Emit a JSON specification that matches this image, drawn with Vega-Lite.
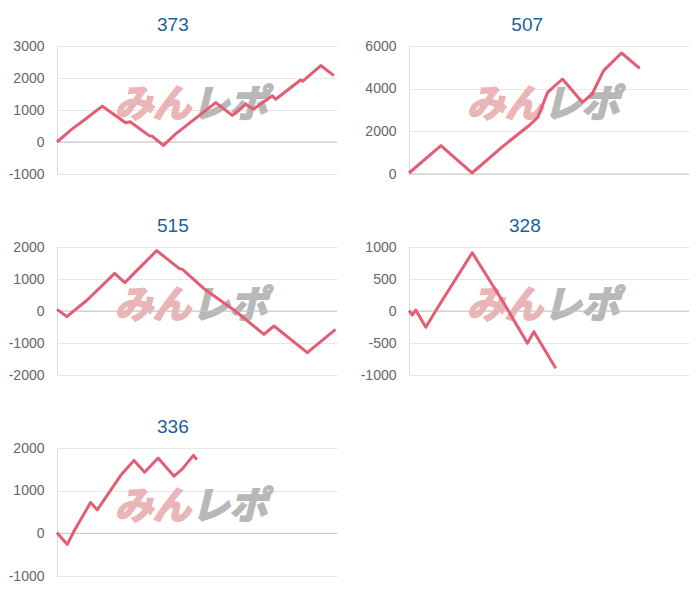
{
  "$schema": "https://vega.github.io/schema/vega-lite/v6.json",
  "padding": {"left": 8, "top": 16, "right": 5, "bottom": 5},
  "background": "white",
  "datasets": {
    "p373": [
      {"x": 0, "y": 0}, {"x": 5, "y": 380}, {"x": 10.8, "y": 758}, {"x": 16.2, "y": 1120},
      {"x": 24.5, "y": 600}, {"x": 26.1, "y": 632}, {"x": 32.9, "y": 200}, {"x": 34, "y": 180},
      {"x": 38, "y": -105}, {"x": 42.4, "y": 253}, {"x": 51.3, "y": 863}, {"x": 56.7, "y": 1232},
      {"x": 62.6, "y": 832}, {"x": 67.4, "y": 1179}, {"x": 70.1, "y": 1021}, {"x": 76.9, "y": 1442},
      {"x": 78.1, "y": 1337}, {"x": 87, "y": 1937}, {"x": 87.8, "y": 1900}, {"x": 94.2, "y": 2389},
      {"x": 98.9, "y": 2074}
    ],
    "p507": [
      {"x": 0, "y": 47}, {"x": 11.4, "y": 1328}, {"x": 22.5, "y": 47}, {"x": 33.1, "y": 1250},
      {"x": 43.1, "y": 2297}, {"x": 46, "y": 2656}, {"x": 49.5, "y": 3828}, {"x": 54.8, "y": 4453},
      {"x": 61.9, "y": 3359}, {"x": 65.4, "y": 3750}, {"x": 69.5, "y": 4844}, {"x": 75.9, "y": 5672},
      {"x": 82.4, "y": 4953}
    ],
    "p515": [
      {"x": 0, "y": 52}, {"x": 3.5, "y": -177}, {"x": 10.8, "y": 344}, {"x": 20.6, "y": 1177},
      {"x": 24.2, "y": 885}, {"x": 27.5, "y": 1177}, {"x": 35.6, "y": 1885}, {"x": 43.6, "y": 1333},
      {"x": 44.8, "y": 1300}, {"x": 53.1, "y": 656}, {"x": 63.2, "y": 31}, {"x": 73.9, "y": -729},
      {"x": 77.5, "y": -469}, {"x": 89.4, "y": -1302}, {"x": 99.5, "y": -573}
    ],
    "p328": [
      {"x": 0, "y": 5}, {"x": 1.2, "y": -63}, {"x": 2.4, "y": 16}, {"x": 6, "y": -255},
      {"x": 10.1, "y": 42}, {"x": 22.6, "y": 911}, {"x": 33.9, "y": 120}, {"x": 42.3, "y": -505},
      {"x": 44.6, "y": -323}, {"x": 52.4, "y": -896}
    ],
    "p336": [
      {"x": 0, "y": 16}, {"x": 3.7, "y": -260}, {"x": 6.1, "y": 55}, {"x": 12, "y": 724},
      {"x": 14.4, "y": 551}, {"x": 22.7, "y": 1354}, {"x": 27.5, "y": 1709}, {"x": 31.3, "y": 1433},
      {"x": 36.1, "y": 1764}, {"x": 41.8, "y": 1339}, {"x": 44.8, "y": 1512}, {"x": 48.7, "y": 1827},
      {"x": 49.9, "y": 1732}
    ]
  },
  "columns": 2,
  "spacing": {"row": 36, "column": 22},
  "concat": [
    {
      "title": "373", "width": 280, "height": 128,
      "layer": [
        {"data": {"values": [{}]}, "mark": {"type": "text", "text": "みん", "align": "right", "baseline": "middle", "font": "Noto Sans CJK JP", "fontWeight": "bold", "fontStyle": "italic", "fontSize": 38, "color": "#e9b5b7", "stroke": "#e9b5b7", "strokeWidth": 2},
         "encoding": {"x": {"datum": 47.8, "type": "quantitative", "title": null}, "y": {"datum": 1120, "type": "quantitative", "title": null, "axis": {"values": [-1000, 0, 1000, 2000, 3000]}}}},
        {"data": {"values": [{}]}, "mark": {"type": "text", "text": "レポ", "align": "left", "baseline": "middle", "font": "Noto Sans CJK JP", "fontWeight": "bold", "fontStyle": "italic", "fontSize": 38, "color": "#b8b8b8", "stroke": "#b8b8b8", "strokeWidth": 2},
         "encoding": {"x": {"datum": 48, "type": "quantitative", "title": null}, "y": {"datum": 1120, "type": "quantitative", "title": null, "axis": {"values": [-1000, 0, 1000, 2000, 3000]}}}},
        {"data": {"values": [{}]}, "mark": {"type": "rule", "color": "#c4c4c4", "strokeWidth": 1},
         "encoding": {"y": {"datum": 0, "type": "quantitative", "title": null, "axis": {"values": [-1000, 0, 1000, 2000, 3000]}}}},
        {"data": {"name": "p373"}, "mark": {"type": "line"},
         "encoding": {
           "x": {"field": "x", "type": "quantitative", "title": null, "scale": {"domain": [0, 100], "nice": false}},
           "y": {"field": "y", "type": "quantitative", "title": null, "scale": {"domain": [-1000, 3000], "nice": false},
                 "axis": {"values": [-1000, 0, 1000, 2000, 3000]}}
         }}
      ]
    },
    {
      "title": "507", "width": 280, "height": 128,
      "layer": [
        {"data": {"values": [{}]}, "mark": {"type": "text", "text": "みん", "align": "right", "baseline": "middle", "font": "Noto Sans CJK JP", "fontWeight": "bold", "fontStyle": "italic", "fontSize": 38, "color": "#e9b5b7", "stroke": "#e9b5b7", "strokeWidth": 2},
         "encoding": {"x": {"datum": 47.8, "type": "quantitative", "title": null}, "y": {"datum": 3180, "type": "quantitative", "title": null, "axis": {"values": [0, 2000, 4000, 6000]}}}},
        {"data": {"values": [{}]}, "mark": {"type": "text", "text": "レポ", "align": "left", "baseline": "middle", "font": "Noto Sans CJK JP", "fontWeight": "bold", "fontStyle": "italic", "fontSize": 38, "color": "#b8b8b8", "stroke": "#b8b8b8", "strokeWidth": 2},
         "encoding": {"x": {"datum": 48, "type": "quantitative", "title": null}, "y": {"datum": 3180, "type": "quantitative", "title": null, "axis": {"values": [0, 2000, 4000, 6000]}}}},
        {"data": {"values": [{}]}, "mark": {"type": "rule", "color": "#c4c4c4", "strokeWidth": 1},
         "encoding": {"y": {"datum": 0, "type": "quantitative", "title": null, "axis": {"values": [0, 2000, 4000, 6000]}}}},
        {"data": {"name": "p507"}, "mark": {"type": "line"},
         "encoding": {
           "x": {"field": "x", "type": "quantitative", "title": null, "scale": {"domain": [0, 100], "nice": false}},
           "y": {"field": "y", "type": "quantitative", "title": null, "scale": {"domain": [0, 6000], "nice": false},
                 "axis": {"values": [0, 2000, 4000, 6000]}}
         }}
      ]
    },
    {
      "title": "515", "width": 280, "height": 128,
      "layer": [
        {"data": {"values": [{}]}, "mark": {"type": "text", "text": "みん", "align": "right", "baseline": "middle", "font": "Noto Sans CJK JP", "fontWeight": "bold", "fontStyle": "italic", "fontSize": 38, "color": "#e9b5b7", "stroke": "#e9b5b7", "strokeWidth": 2},
         "encoding": {"x": {"datum": 47.8, "type": "quantitative", "title": null}, "y": {"datum": 120, "type": "quantitative", "title": null, "axis": {"values": [-2000, -1000, 0, 1000, 2000]}}}},
        {"data": {"values": [{}]}, "mark": {"type": "text", "text": "レポ", "align": "left", "baseline": "middle", "font": "Noto Sans CJK JP", "fontWeight": "bold", "fontStyle": "italic", "fontSize": 38, "color": "#b8b8b8", "stroke": "#b8b8b8", "strokeWidth": 2},
         "encoding": {"x": {"datum": 48, "type": "quantitative", "title": null}, "y": {"datum": 120, "type": "quantitative", "title": null, "axis": {"values": [-2000, -1000, 0, 1000, 2000]}}}},
        {"data": {"values": [{}]}, "mark": {"type": "rule", "color": "#c4c4c4", "strokeWidth": 1},
         "encoding": {"y": {"datum": 0, "type": "quantitative", "title": null, "axis": {"values": [-2000, -1000, 0, 1000, 2000]}}}},
        {"data": {"name": "p515"}, "mark": {"type": "line"},
         "encoding": {
           "x": {"field": "x", "type": "quantitative", "title": null, "scale": {"domain": [0, 100], "nice": false}},
           "y": {"field": "y", "type": "quantitative", "title": null, "scale": {"domain": [-2000, 2000], "nice": false},
                 "axis": {"values": [-2000, -1000, 0, 1000, 2000]}}
         }}
      ]
    },
    {
      "title": "328", "width": 280, "height": 128,
      "layer": [
        {"data": {"values": [{}]}, "mark": {"type": "text", "text": "みん", "align": "right", "baseline": "middle", "font": "Noto Sans CJK JP", "fontWeight": "bold", "fontStyle": "italic", "fontSize": 38, "color": "#e9b5b7", "stroke": "#e9b5b7", "strokeWidth": 2},
         "encoding": {"x": {"datum": 47.8, "type": "quantitative", "title": null}, "y": {"datum": 60, "type": "quantitative", "title": null, "axis": {"values": [-1000, -500, 0, 500, 1000]}}}},
        {"data": {"values": [{}]}, "mark": {"type": "text", "text": "レポ", "align": "left", "baseline": "middle", "font": "Noto Sans CJK JP", "fontWeight": "bold", "fontStyle": "italic", "fontSize": 38, "color": "#b8b8b8", "stroke": "#b8b8b8", "strokeWidth": 2},
         "encoding": {"x": {"datum": 48, "type": "quantitative", "title": null}, "y": {"datum": 60, "type": "quantitative", "title": null, "axis": {"values": [-1000, -500, 0, 500, 1000]}}}},
        {"data": {"values": [{}]}, "mark": {"type": "rule", "color": "#c4c4c4", "strokeWidth": 1},
         "encoding": {"y": {"datum": 0, "type": "quantitative", "title": null, "axis": {"values": [-1000, -500, 0, 500, 1000]}}}},
        {"data": {"name": "p328"}, "mark": {"type": "line"},
         "encoding": {
           "x": {"field": "x", "type": "quantitative", "title": null, "scale": {"domain": [0, 100], "nice": false}},
           "y": {"field": "y", "type": "quantitative", "title": null, "scale": {"domain": [-1000, 1000], "nice": false},
                 "axis": {"values": [-1000, -500, 0, 500, 1000]}}
         }}
      ]
    },
    {
      "title": "336", "width": 280, "height": 128,
      "layer": [
        {"data": {"values": [{}]}, "mark": {"type": "text", "text": "みん", "align": "right", "baseline": "middle", "font": "Noto Sans CJK JP", "fontWeight": "bold", "fontStyle": "italic", "fontSize": 38, "color": "#e9b5b7", "stroke": "#e9b5b7", "strokeWidth": 2},
         "encoding": {"x": {"datum": 47.8, "type": "quantitative", "title": null}, "y": {"datum": 590, "type": "quantitative", "title": null, "axis": {"values": [-1000, 0, 1000, 2000]}}}},
        {"data": {"values": [{}]}, "mark": {"type": "text", "text": "レポ", "align": "left", "baseline": "middle", "font": "Noto Sans CJK JP", "fontWeight": "bold", "fontStyle": "italic", "fontSize": 38, "color": "#b8b8b8", "stroke": "#b8b8b8", "strokeWidth": 2},
         "encoding": {"x": {"datum": 48, "type": "quantitative", "title": null}, "y": {"datum": 590, "type": "quantitative", "title": null, "axis": {"values": [-1000, 0, 1000, 2000]}}}},
        {"data": {"values": [{}]}, "mark": {"type": "rule", "color": "#c4c4c4", "strokeWidth": 1},
         "encoding": {"y": {"datum": 0, "type": "quantitative", "title": null, "axis": {"values": [-1000, 0, 1000, 2000]}}}},
        {"data": {"name": "p336"}, "mark": {"type": "line"},
         "encoding": {
           "x": {"field": "x", "type": "quantitative", "title": null, "scale": {"domain": [0, 100], "nice": false}},
           "y": {"field": "y", "type": "quantitative", "title": null, "scale": {"domain": [-1000, 2000], "nice": false},
                 "axis": {"values": [-1000, 0, 1000, 2000]}}
         }}
      ]
    }
  ],
  "config": {
    "view": {"stroke": null},
    "axisX": {"disable": true},
    "axisY": {"grid": true, "gridColor": "#e6e6e6", "gridWidth": 1, "ticks": false, "labelOverlap": false, "labelExpr": "'' + datum.value", "labelFont": "Liberation Sans", "labelFontSize": 14, "labelColor": "#666666", "labelPadding": 13, "domainColor": "#dddddd"},
    "title": {"font": "Liberation Sans", "fontSize": 19, "fontWeight": "normal", "color": "#1c5f9e", "anchor": "middle", "frame": "bounds", "offset": 4},
    "line": {"color": "#e35d73", "strokeWidth": 3, "strokeJoin": "round"}
  }
}
